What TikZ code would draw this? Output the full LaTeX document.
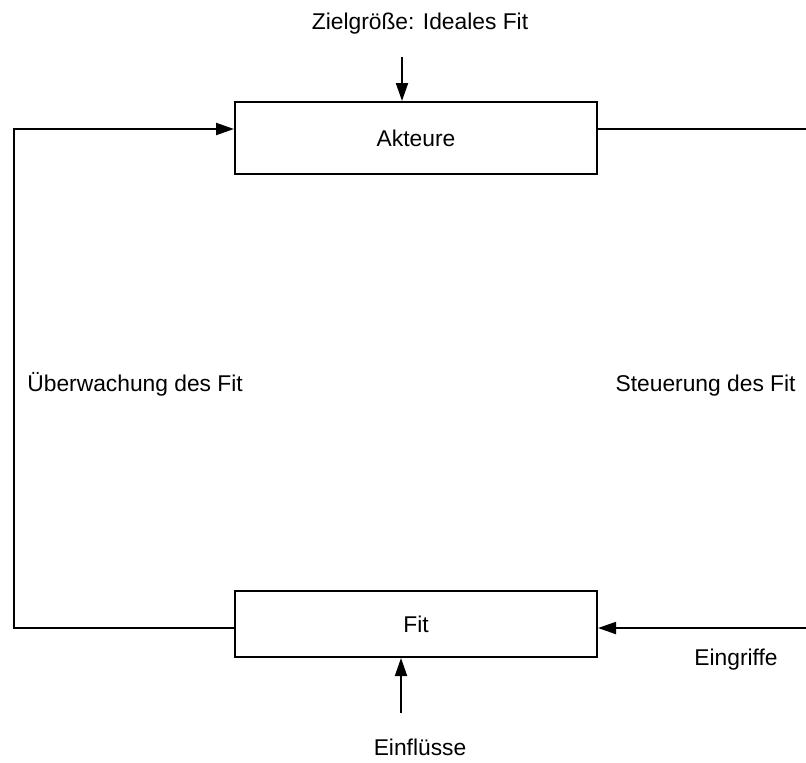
\documentclass[tikz,border=0pt]{standalone}
\usepackage{fontspec}
\setmainfont{Liberation Sans}
\usetikzlibrary{arrows.meta}

\begin{document}
\begin{tikzpicture}[x=0.5pt,y=-0.5pt,
    box/.style={draw, line width=1pt, minimum width=181pt, inner sep=0pt,
        font=\fontsize{11.4}{13}\selectfont},
    lbl/.style={anchor=base, inner sep=0pt, font=\fontsize{11.4}{13}\selectfont},
    pfeil/.style={line width=1pt, -{Triangle[length=9pt,width=6pt]}}]
    \useasboundingbox (0,0) rectangle (806,762);

    % die beiden Kaesten
    \node[box, minimum height=36pt] (akt) at (416,138) {Akteure};
    \node[box, minimum height=33pt] (fit) at (416,624) {Fit};

    % Texte
    \node[lbl] (ziel) at (420,29) {Zielgröße: Ideales Fit};
    \node[lbl] (einfl) at (420,755) {Einflüsse};
    \node[lbl] (eingr) at (736,665) {Eingriffe};
    \node[lbl, anchor=base west] (ueberw) at (27,391) {Überwachung des Fit};
    \node[lbl, anchor=base east] (steuer) at (796,391) {Steuerung des Fit};

    % Rueckkopplung links
    \coordinate (lb) at (14,628);
    \coordinate (lt) at (14,129);
    \draw[pfeil] (fit.west |- lb) -- (lb) -- (lt) -- (akt.west |- lt);

    % Steuerung rechts (Rand abgeschnitten)
    \coordinate (rt) at (806,129);
    \coordinate (rb) at (806,628);
    \draw[line width=1pt] (akt.east |- rt) -- (rt);
    \draw[pfeil] (rb) -- (fit.east |- rb);

    % Zielgroesse und Einfluesse
    \coordinate (zo) at (402,57);
    \coordinate (eu) at (401,713);
    \draw[pfeil] (zo) -- (zo |- akt.north);
    \draw[pfeil] (eu) -- (eu |- fit.south);
\end{tikzpicture}
\end{document}
